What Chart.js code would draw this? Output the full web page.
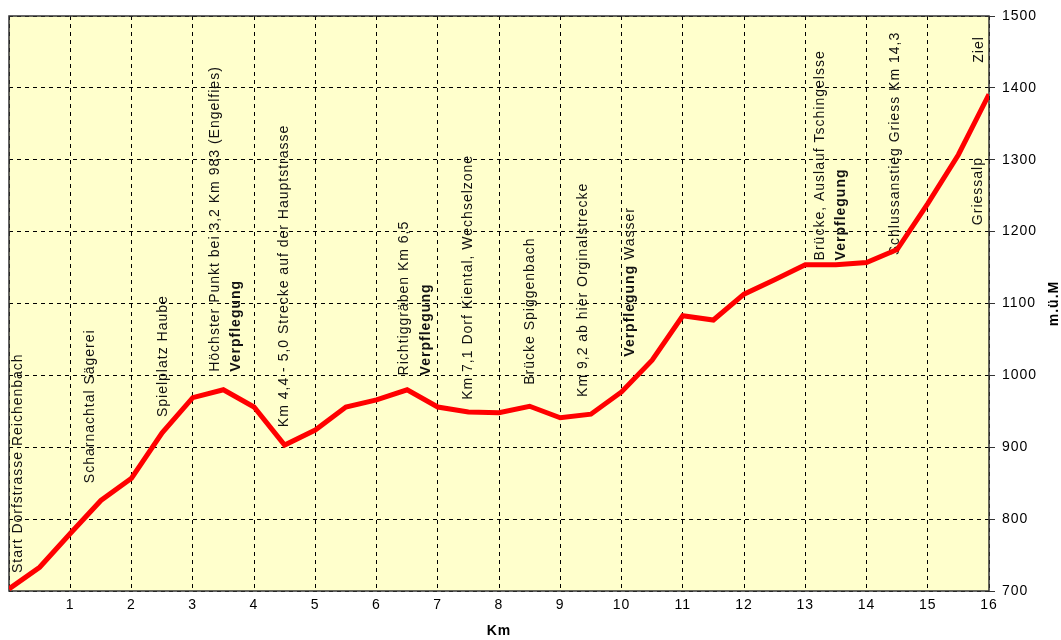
<!DOCTYPE html>
<html>
<head>
<meta charset="utf-8">
<script src="https://cdn.jsdelivr.net/npm/chart.js@4/dist/chart.umd.min.js"></script>
<style>
html,body{margin:0;padding:0;background:#fff;}
#wrap{width:1061px;height:640px;position:relative;}
</style>
</head>
<body>
<div id="wrap"><canvas id="c"></canvas></div>
<script>
// ---- data ----
const km = [0,0.5,1,1.5,2,2.5,3,3.5,4,4.5,5,5.5,6,6.5,7,7.5,8,8.5,9,9.5,10,10.5,11,11.5,12,12.5,13,13.5,14,14.5,15,15.5,16];
const elevation = [703,733,780,826,857,920,969,980,956,903,924,956,966,980,956,949,948,957,941,946,977,1021,1083,1077,1113,1133,1154,1154,1157,1175,1239,1307,1391];
const xTicks = [0,1,2,3,4,5,6,7,8,9,10,11,12,13,14,15,16];
const yTicks = [700,800,900,1000,1100,1200,1300,1400,1500];
const xTitle = 'Km';
const yTitle = 'm.ü.M';
// route markers: text (bold parts between *), km position, elevation at text start
const markerText = [
  'Start Dorfstrasse Reichenbach',
  'Scharnachtal Sägerei',
  'Spielplatz Haube',
  'Höchster Punkt bei 3,2 Km 983 (Engelfies)',
  '*Verpflegung*',
  'Km 4,4 - 5,0 Strecke auf der Hauptstrasse',
  'Richtiggräben Km 6,5',
  '*Verpflegung*',
  'Km 7,1 Dorf Kiental, Wechselzone',
  'Brücke Spiggenbach',
  'Km 9,2 ab hier Orginalstrecke',
  '*Verpflegung* Wasser',
  'Brücke, Auslauf Tschingelsse',
  '*Verpflegung*',
  'Schlussanstieg Griess Km 14,3',
  'Ziel',
  'Griessalp'
];
const markerKm  = [0.15,1.32,2.51,3.36,3.71,4.49,6.45,6.81,7.49,8.51,9.37,10.14,13.24,13.58,14.47,15.84,15.82];
const markerAlt = [725,850,942,1005,1005,928,1000,1000,966,987,970,1026,1160,1160,1167,1435,1209];

const FONT = '"Liberation Sans", Arial, sans-serif';

const deco = {
  id: 'deco',
  beforeLayout(chart) { chart.ctx.letterSpacing = '1px'; },
  beforeDraw(chart) {
    const {ctx, chartArea: a} = chart;
    ctx.save();
    ctx.fillStyle = '#ffffff';
    ctx.fillRect(0, 0, chart.width, chart.height);
    ctx.fillStyle = '#FFFFCC';
    ctx.fillRect(a.left, a.top, a.right - a.left, a.bottom - a.top);
    ctx.restore();
    ctx.letterSpacing = '1px';
  },
  beforeDatasetsDraw(chart) {
    const {ctx, chartArea: a, scales} = chart;
    ctx.save();
    ctx.strokeStyle = '#333333';
    ctx.lineWidth = 1.5;
    ctx.strokeRect(a.left, a.top, a.right - a.left, a.bottom - a.top);
    // markers
    ctx.fillStyle = '#111111';
    ctx.textAlign = 'left';
    ctx.textBaseline = 'middle';
    ctx.letterSpacing = '1px';
    for (let i = 0; i < markerText.length; i++) {
      const x = scales.x.getPixelForValue(markerKm[i]);
      const y = scales.y.getPixelForValue(markerAlt[i]);
      ctx.save();
      ctx.translate(x, y);
      ctx.rotate(-Math.PI / 2);
      const parts = markerText[i].split('*');
      let off = 0;
      parts.forEach((p, j) => {
        if (!p) return;
        const bold = j % 2 === 1;
        ctx.font = (bold ? 'bold ' : '') + '14px ' + FONT;
        ctx.fillText(p, off, 0);
        off += ctx.measureText(p).width;
      });
      ctx.restore();
    }
    ctx.restore();
  },
  afterDraw(chart) {
    const {ctx, chartArea: a} = chart;
    ctx.save();
    ctx.letterSpacing = '1px';
    ctx.font = 'bold 14px ' + FONT;
    ctx.fillStyle = '#000';
    ctx.textAlign = 'center';
    ctx.textBaseline = 'middle';
    ctx.translate(1054, (a.top + a.bottom) / 2);
    ctx.rotate(-Math.PI / 2);
    ctx.fillText(yTitle, 0, 0);
    ctx.restore();
  }
};

new Chart(document.getElementById('c'), {
  type: 'line',
  data: {
    datasets: [{
      data: km.map((k, i) => ({x: k, y: elevation[i]})),
      borderColor: '#FF0000',
      borderWidth: 5,
      pointRadius: 0,
      tension: 0,
      fill: false
    }]
  },
  options: {
    responsive: true,
    maintainAspectRatio: false,
    animation: false,
    devicePixelRatio: 1,
    layout: {padding: {left: 9, top: 16, right: 0, bottom: 0}},
    plugins: {legend: {display: false}, tooltip: {enabled: false}},
    scales: {
      x: {
        type: 'linear',
        min: xTicks[0],
        max: xTicks[xTicks.length - 1],
        afterBuildTicks(s) { s.ticks = xTicks.map(v => ({value: v})); },
        afterFit(s) { s.height = 49; },
        grid: {color: '#000', lineWidth: 1, drawTicks: false},
        border: {display: false, dash: [4, 4]},
        ticks: {
          padding: 6,
          color: '#000',
          font: {family: FONT, size: 14},
          maxRotation: 0,
          autoSkip: false,
          callback: v => (v === 0 ? '' : String(v))
        },
        title: {
          display: true,
          text: xTitle,
          color: '#000',
          font: {family: FONT, size: 14, weight: 'bold'},
          padding: {top: 0, bottom: 0}
        }
      },
      y: {
        type: 'linear',
        position: 'right',
        min: yTicks[0],
        max: yTicks[yTicks.length - 1],
        afterBuildTicks(s) { s.ticks = yTicks.map(v => ({value: v})); },
        afterFit(s) { s.width = 72; },
        grid: {color: '#000', lineWidth: 1, drawTicks: true, tickLength: 6, tickColor: '#333'},
        border: {display: false, dash: [4, 4]},
        ticks: {
          padding: 7,
          color: '#000',
          font: {family: FONT, size: 14},
          autoSkip: false,
          callback: v => String(v)
        }
      }
    }
  },
  plugins: [deco]
});
</script>
</body>
</html>
